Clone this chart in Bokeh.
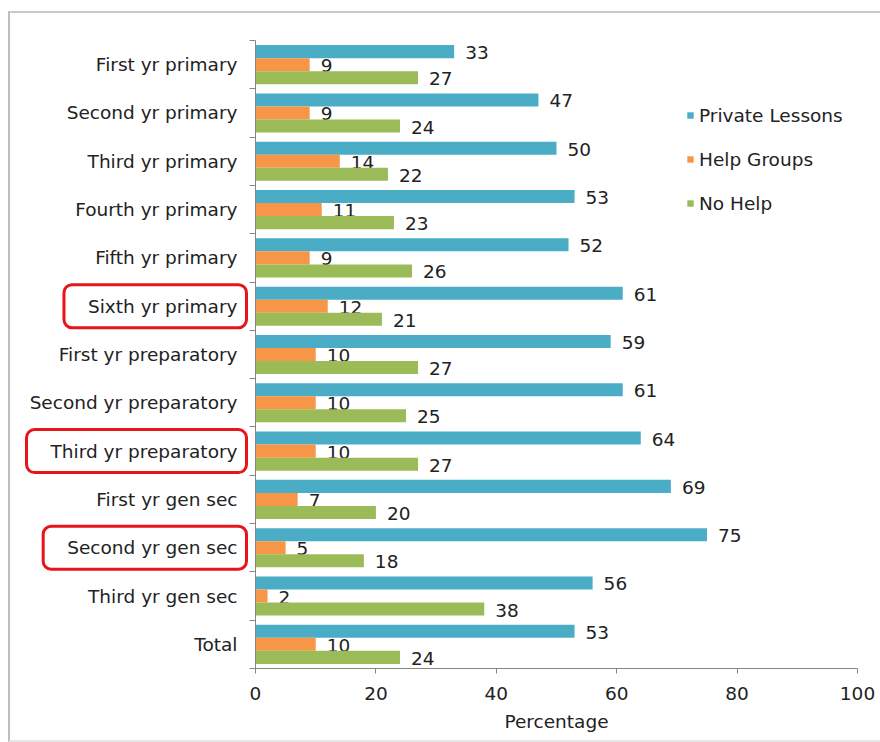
from bokeh.plotting import figure
from bokeh.layouts import row
from bokeh.models import (Range1d, LinearAxis, FixedTicker, Label, ColumnDataSource,
                          Legend, LegendItem)
from bokeh.core.properties import value
from bokeh.embed import file_html
from bokeh.resources import INLINE

# ---- data ----
categories = ["First yr primary", "Second yr primary", "Third yr primary", "Fourth yr primary",
              "Fifth yr primary", "Sixth yr primary", "First yr preparatory",
              "Second yr preparatory", "Third yr preparatory", "First yr gen sec",
              "Second yr gen sec", "Third yr gen sec", "Total"]
private_lessons = [33, 47, 50, 53, 52, 61, 59, 61, 64, 69, 75, 56, 53]
help_groups = [9, 9, 14, 11, 9, 12, 10, 10, 10, 7, 5, 2, 10]
no_help = [27, 24, 22, 23, 26, 21, 27, 25, 27, 20, 18, 38, 24]
series_names = ["Private Lessons", "Help Groups", "No Help"]
highlighted = ["Sixth yr primary", "Third yr preparatory", "Second yr gen sec"]
x_ticks = [0, 20, 40, 60, 80, 100]
x_label = "Percentage"

# ---- style ----
FONT = "DejaVu Sans"
FS = "18.5px"
TXT = "#222222"
AX = "#868686"
colors = ["#4BACC6", "#F79646", "#9BBB59"]
bar_h = 0.27
offsets = [bar_h, 0.0, -bar_h]
H = 727
TOP, BOTTOM = 27, 72

n = len(categories)
centers = [n - 0.5 - i for i in range(n)]  # category slot centres, first at top
y_range = Range1d(0, n)

# ---------------- main chart ----------------
p = figure(width=631, height=H, output_backend="svg", toolbar_location=None,
           x_range=Range1d(0, 100), y_range=y_range,
           y_axis_location=None, min_border_left=6, min_border_right=23,
           min_border_top=TOP, min_border_bottom=BOTTOM)
p.grid.visible = False
p.outline_line_color = None
p.background_fill_color = "white"
p.border_fill_color = "white"

xa = p.xaxis[0]
xa.ticker = FixedTicker(ticks=x_ticks)
xa.axis_line_color = AX
xa.major_tick_line_color = AX
xa.major_tick_out = 5
xa.major_tick_in = 0
xa.minor_tick_line_color = None
xa.major_label_text_font = FONT
xa.major_label_text_font_size = FS
xa.major_label_text_color = TXT
xa.major_label_standoff = 13
xa.axis_label = x_label
xa.axis_label_text_font = FONT
xa.axis_label_text_font_size = FS
xa.axis_label_text_font_style = "normal"
xa.axis_label_text_color = TXT
xa.axis_label_standoff = 8

# y axis line with ticks on category boundaries
bounds = list(range(n + 1))
tick_axis = LinearAxis(ticker=FixedTicker(ticks=bounds),
                       major_label_overrides={b: "" for b in bounds},
                       major_label_text_font_size="0px",
                       major_tick_out=6, major_tick_in=0, major_label_standoff=0,
                       minor_tick_line_color=None, axis_line_color=AX,
                       major_tick_line_color=AX)
p.add_layout(tick_axis, "left")

series = [private_lessons, help_groups, no_help]
items = []
for name, vals, col, off in zip(series_names, series, colors, offsets):
    src = ColumnDataSource(dict(y=[c + off for c in centers], val=vals,
                                lbl=[str(v) for v in vals]))
    r = p.hbar(y="y", right="val", left=0, height=bar_h,
               source=src, fill_color=col, line_color=None)
    p.text(x="val", y="y", text="lbl", source=src,
           x_offset=11, y_offset=1, text_baseline="middle", text_align="left",
           text_font=value(FONT), text_font_size=FS, text_color=TXT)
    items.append(LegendItem(label=name, renderers=[r]))

legend = Legend(items=items, location=(431, 454), glyph_width=8, glyph_height=8,
                label_standoff=5, label_height=22, spacing=22, padding=0, margin=0,
                border_line_color=None, background_fill_alpha=0,
                label_text_font=FONT, label_text_font_size=FS, label_text_color=TXT)
p.add_layout(legend, "center")

# ---------------- category label panel ----------------
lp = figure(width=239, height=H, output_backend="svg", toolbar_location=None,
            x_range=Range1d(0, 1), y_range=y_range,
            x_axis_location=None, y_axis_location=None,
            min_border_left=0, min_border_right=0,
            min_border_top=TOP, min_border_bottom=BOTTOM)
lp.grid.visible = False
lp.outline_line_color = None
lp.background_fill_color = "white"
lp.border_fill_color = "white"

csrc = ColumnDataSource(dict(y=centers, name=categories, x=[1] * n))
lp.text(x="x", y="y", text="name", source=csrc, x_offset=-12,
        text_align="right", text_baseline="middle",
        text_font=value(FONT), text_font_size=FS, text_color=TXT)

# red rounded boxes around highlighted category names
for cat in highlighted:
    idx = categories.index(cat)
    lab = Label(x=1, y=centers[idx], x_offset=-3,
                text=cat, text_align="right", text_baseline="middle",
                text_font=FONT, text_font_size=FS, text_color="white", text_alpha=0.01,
                border_line_color="#E8141B", border_line_width=3, border_radius=8,
                padding=(24, 9, 11, 11))
    lp.add_layout(lab)

layout = row(lp, p, styles={"margin-left": "8px", "margin-top": "11px",
                            "border-left": "2px solid #BDBDBD",
                            "border-top": "2px solid #C8C8C8",
                            "border-bottom": "2px solid #E6E6E6"})

open("out.html", "w").write(file_html(layout, INLINE))
